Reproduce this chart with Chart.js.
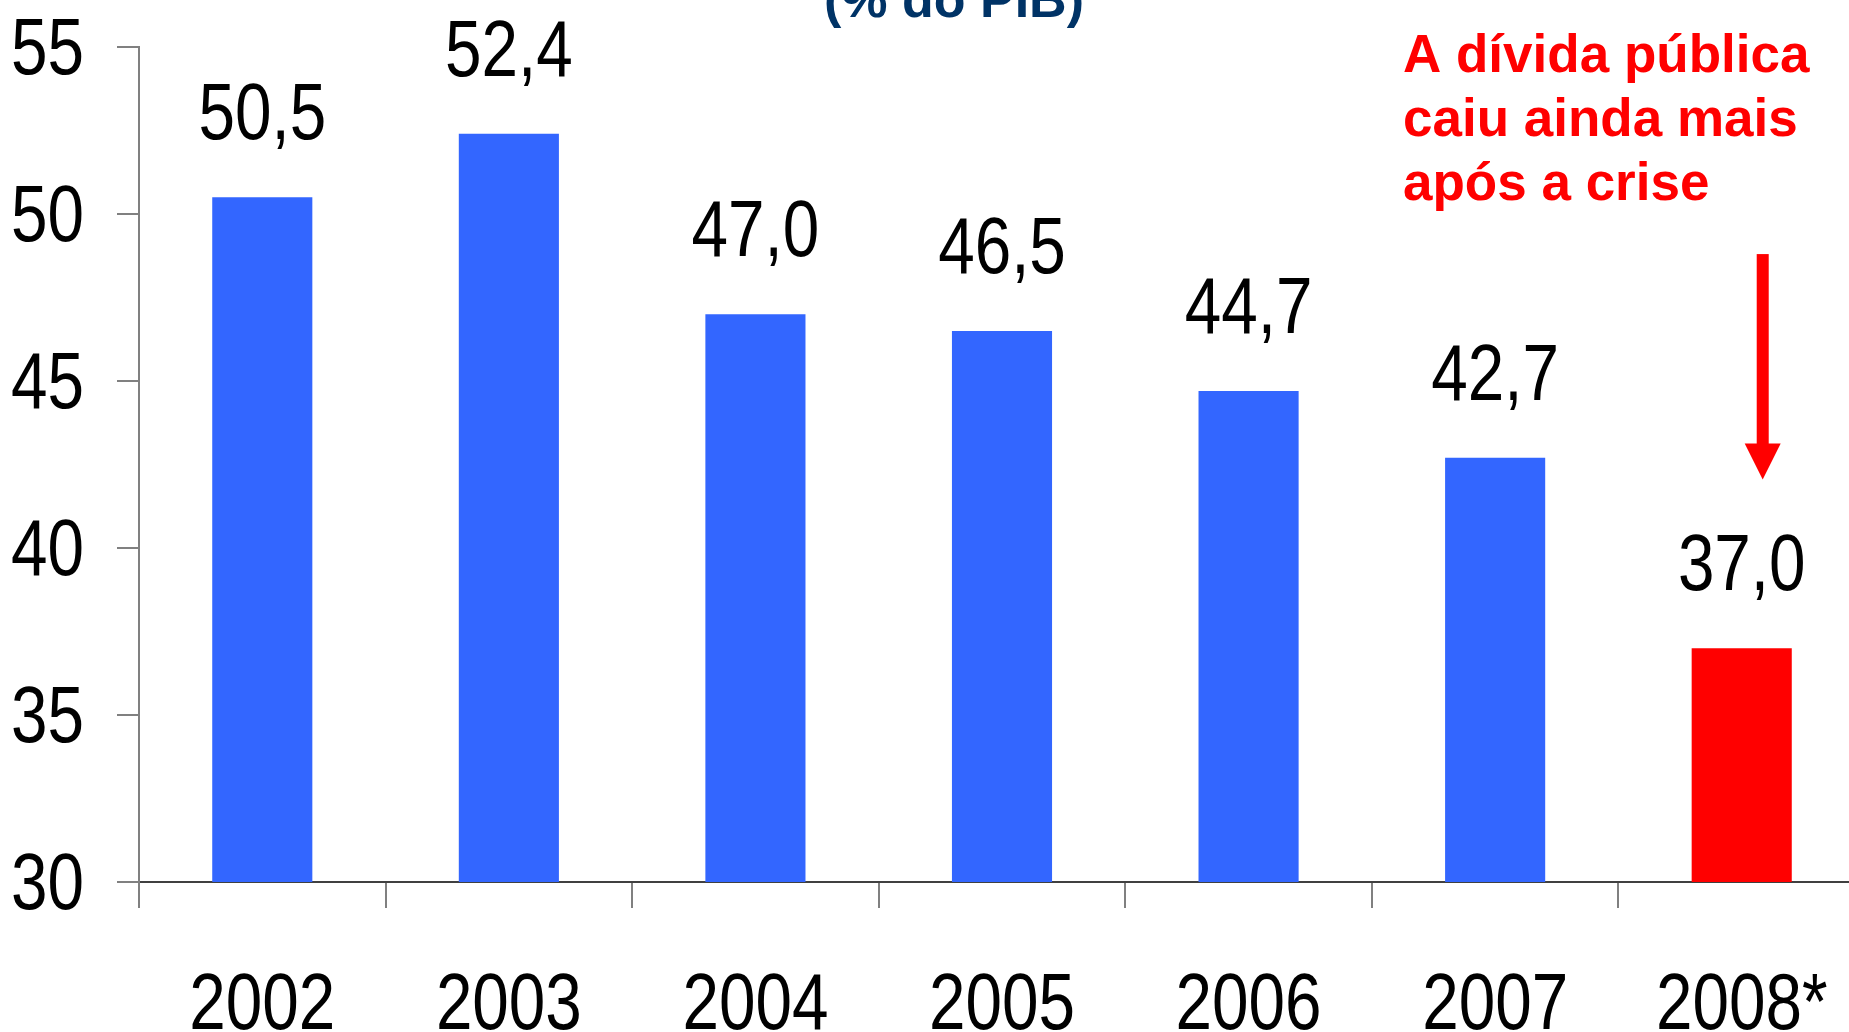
<!DOCTYPE html>
<html>
<head>
<meta charset="utf-8">
<script src="https://cdn.jsdelivr.net/npm/chart.js@4.4.1/dist/chart.umd.min.js"></script>
<style>
    html, body { margin: 0; padding: 0; background: #fff; overflow: hidden; }
    #wrap { width: 1865px; height: 1032px; position: relative; }
</style>
</head>
<body>
<div id="wrap"><canvas id="debtChart"></canvas></div>
<script>
// Data
const years = ['2002', '2003', '2004', '2005', '2006', '2007', '2008*'];
const debtValues = [50.5, 52.4, 47.0, 46.5, 44.7, 42.7, 37.0];
const yTicks = [30, 35, 40, 45, 50, 55];
const titleText = '(% do PIB)';
const noteLines = ['A dívida pública', 'caiu ainda mais', 'após a crise'];

// Styles
const SANS = "'Liberation Sans', Arial, sans-serif";
const NARROW_SCALE = 0.82;   // Arial Narrow is Arial squeezed horizontally
const BLUE = '#3366ff';
const RED = '#ff0000';

function formatValue(v) {
    return v.toFixed(1).replace('.', ',');
}

// draw text squeezed horizontally, like the narrow face in the original
function narrowText(ctx, text, x, y, align) {
    ctx.save();
    ctx.translate(x, y);
    ctx.scale(NARROW_SCALE, 1);
    ctx.textAlign = align;
    ctx.fillText(text, 0, 0);
    ctx.restore();
}

// Tick labels (narrow font)
const narrowTicks = {
    id: 'narrowTicks',
    afterDraw(chart) {
        const ctx = chart.ctx;
        const x = chart.scales.x;
        const y = chart.scales.y;
        ctx.save();
        ctx.font = '80px ' + SANS;
        ctx.fillStyle = '#000';
        ctx.textBaseline = 'alphabetic';
        x.ticks.forEach((t, i) => {
            narrowText(ctx, x.getLabelForValue(t.value), x.getPixelForTick(i), chart.chartArea.bottom + 147, 'center');
        });
        y.ticks.forEach((t, i) => {
            narrowText(ctx, String(t.value), chart.chartArea.left - 55, y.getPixelForTick(i) + 27, 'right');
        });
        ctx.restore();
    }
};

// Value labels above bars
const valueLabels = {
    id: 'valueLabels',
    afterDatasetsDraw(chart) {
        const ctx = chart.ctx;
        const meta = chart.getDatasetMeta(0);
        ctx.save();
        ctx.font = '80px ' + SANS;
        ctx.fillStyle = '#000';
        ctx.textBaseline = 'alphabetic';
        meta.data.forEach((bar, i) => {
            narrowText(ctx, formatValue(debtValues[i]), bar.x, bar.y - 58, 'center');
        });
        ctx.restore();
    }
};

// Title (cut at the top) and red note with arrow
const annotations = {
    id: 'annotations',
    afterDraw(chart) {
        const ctx = chart.ctx;
        const x = chart.scales.x;
        const y = chart.scales.y;
        ctx.save();

        ctx.font = 'bold 52px ' + SANS;
        ctx.fillStyle = '#003366';
        ctx.textAlign = 'center';
        ctx.textBaseline = 'alphabetic';
        ctx.fillText(titleText, 954, 17);

        ctx.font = 'bold 53px ' + SANS;
        ctx.fillStyle = RED;
        ctx.textAlign = 'left';
        noteLines.forEach((line, i) => {
            ctx.fillText(line, 1403, 72 + i * 64);
        });

        // arrow pointing down at the 2008 bar
        const ax = x.getPixelForValue(6) + 21;
        const top = y.getPixelForValue(48.8);
        const tip = y.getPixelForValue(42.05);
        ctx.fillStyle = RED;
        ctx.fillRect(ax - 6, top, 12, tip - top - 34);
        ctx.beginPath();
        ctx.moveTo(ax - 18, tip - 36);
        ctx.lineTo(ax + 18, tip - 36);
        ctx.lineTo(ax, tip);
        ctx.closePath();
        ctx.fill();

        ctx.restore();
    }
};

document.addEventListener('DOMContentLoaded', function() {
    const ctx = document.getElementById('debtChart').getContext('2d');
    window.debtChart = new Chart(ctx, {
        type: 'bar',
        data: {
            labels: years,
            datasets: [{
                data: debtValues,
                backgroundColor: debtValues.map((v, i) => i === debtValues.length - 1 ? RED : BLUE),
                borderWidth: 0,
                barPercentage: 0.406,
                categoryPercentage: 1
            }]
        },
        options: {
            responsive: true,
            maintainAspectRatio: false,
            animation: false,
            layout: { padding: { top: 47, right: 0, bottom: 0, left: 0 } },
            plugins: {
                legend: { display: false },
                tooltip: { enabled: false }
            },
            scales: {
                x: {
                    grid: {
                        drawOnChartArea: false,
                        offset: true,
                        tickLength: 26,
                        color: '#808080',
                        lineWidth: 2
                    },
                    border: { color: '#404040', width: 2 },
                    ticks: { display: false },
                    afterFit(scale) { scale.height = 150; }
                },
                y: {
                    min: yTicks[0],
                    max: yTicks[yTicks.length - 1],
                    afterBuildTicks(scale) {
                        scale.ticks = yTicks.map(v => ({ value: v }));
                    },
                    grid: {
                        drawOnChartArea: false,
                        tickLength: 22,
                        color: '#808080',
                        lineWidth: 2
                    },
                    border: { color: '#808080', width: 2 },
                    ticks: { display: false },
                    afterFit(scale) { scale.width = 139; }
                }
            }
        },
        plugins: [valueLabels, narrowTicks, annotations]
    });
});
</script>
</body>
</html>
